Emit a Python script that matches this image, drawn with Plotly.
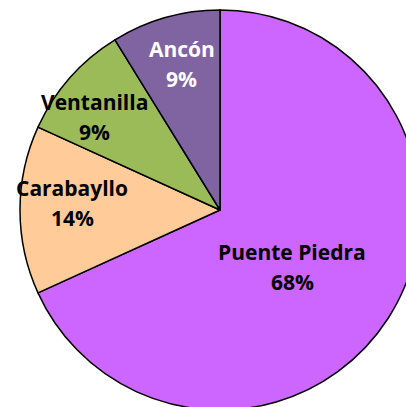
import numpy as np
import plotly.graph_objs as go

# districts, in drawing order (clockwise from 12 o'clock)
districts = ["Puente Piedra", "Carabayllo", "Ventanilla", "Ancón"]
shares = [68.2, 13.6, 9.4, 8.8]
colors = ["#CC66FF", "#FFCC99", "#9BBB59", "#8064A2"]
text_colors = ["black", "black", "black", "white"]

# label placement: fraction of radius + small nudges (px)
label_r = [0.46, 0.74, 0.78, 0.76]
label_dx = [-5, 0, -8, 3]
label_dy = [-7, 7, -10, 0]

fig = go.Figure()
fig.add_trace(go.Pie(
    labels=districts,
    values=shares,
    sort=False,
    direction="clockwise",
    rotation=0,
    marker=dict(colors=colors, line=dict(color="black", width=1.5)),
    textinfo="none",
    hoverinfo="label+percent",
    showlegend=False,
    domain=dict(x=[0, 1], y=[0, 1]),
))

total = float(np.sum(shares))
cum = 0.0
for name, v, tc, rf, dx, dy in zip(districts, shares, text_colors, label_r, label_dx, label_dy):
    mid = (cum + v / 2) / total * 2 * np.pi
    cum += v
    x = 0.5 + rf * 0.5 * np.sin(mid)
    y = 0.5 + rf * 0.5 * np.cos(mid)
    pct = "{:.0f}%".format(v / total * 100)
    for txt, sh in [(name, 15), (pct, -15)]:
        fig.add_annotation(
            x=x, y=y, xref="paper", yref="paper",
            xanchor="center", yanchor="middle",
            text="<b>" + txt + "</b>", showarrow=False,
            xshift=dx, yshift=dy + sh,
            font=dict(family="Open Sans", size=21, color=tc),
        )

fig.update_layout(
    width=440, height=420,
    margin=dict(l=20, r=20, t=10, b=10),
    paper_bgcolor="white",
    plot_bgcolor="white",
)

fig.write_html("out.html", config={"displayModeBar": False},
               post_script="document.body.style.margin='0';document.body.style.overflow='hidden';document.documentElement.style.overflow='hidden';")
